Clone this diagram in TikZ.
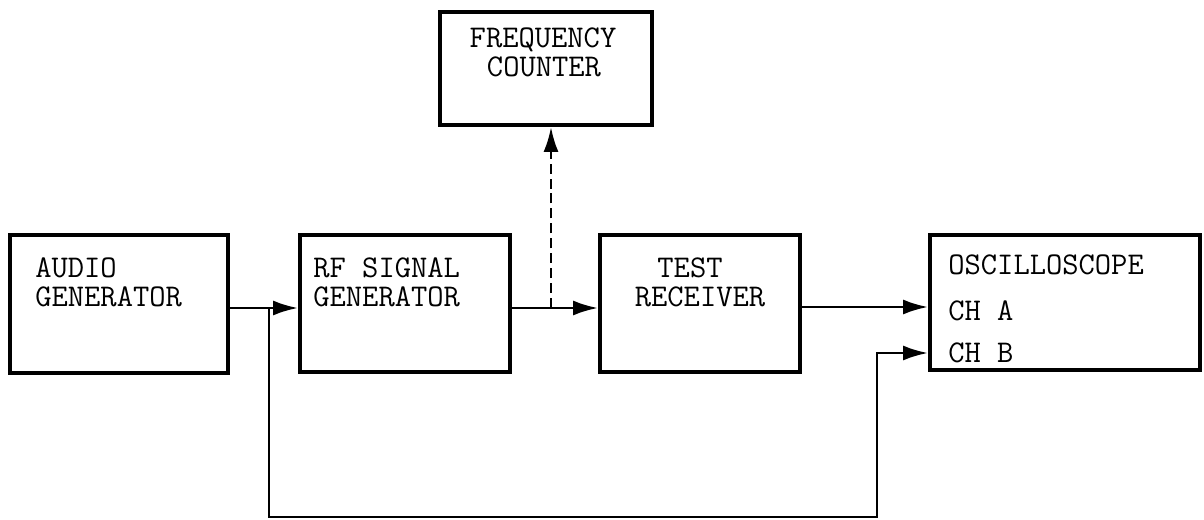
\documentclass[tikz,border=0pt]{standalone}
\usetikzlibrary{arrows.meta}
\begin{document}
\begin{tikzpicture}[x=0.02cm,y=-0.02cm,
  box/.style={draw,line width=2.2pt,inner sep=0pt},
  txt/.style={inner sep=0pt,anchor=base west,font=\fontsize{18}{18}\selectfont\ttfamily},
  ctxt/.style={inner sep=0pt,anchor=base,font=\fontsize{18}{18}\selectfont\ttfamily},
  conn/.style={line width=1.6pt,line join=miter},
  arr/.style={conn,-{Latex[length=0.5cm,width=0.3cm]}},
  dsh/.style={dash pattern=on 5.7pt off 2.8pt}]
\useasboundingbox (0,0) rectangle (1204,520);
% boxes
\node[box,minimum width=4.36cm,minimum height=2.76cm] (ag) at (119,304) {};
\node[box,minimum width=4.2cm,minimum height=2.74cm] (rf) at (405,303.5) {};
\node[box,minimum width=4.24cm,minimum height=2.26cm] (fc) at (546,68.5) {};
\node[box,minimum width=4.0cm,minimum height=2.74cm] (tr) at (700,303.5) {};
\node[box,minimum width=5.4cm,minimum height=2.7cm] (osc) at (1065,302.5) {};
% texts
\node[txt] (ag1) at (35,277) {AUDIO};
\node[txt] (ag2) at (35,307) {GENERATOR};
\node[txt] (rf1) at (313,277) {RF SIGNAL};
\node[txt] (rf2) at (313,307) {GENERATOR};
\node[ctxt] (fc1) at (543,48) {FREQUENCY};
\node[ctxt] (fc2) at (544,77) {COUNTER};
\node[ctxt] (tr1) at (690,277) {TEST};
\node[ctxt] (tr2) at (700,307) {RECEIVER};
\node[txt] (os1) at (948,275) {OSCILLOSCOPE};
\node[txt] (os2) at (948,320) {CH A};
\node[txt] (os3) at (948,362) {CH B};
% connector points
\coordinate (split) at (269,308);
\coordinate (fcsplit) at (551,308);
\coordinate (bl) at (269,517);
\coordinate (br) at (877,517);
\coordinate (chb) at (877,353);
% connectors
\draw[arr] (ag.east |- split) -- (rf.west |- split);
\draw[arr] (split) -- (bl) -- (br) -- (chb) -- (osc.west |- chb);
\draw[arr] (rf.east |- split) -- (tr.west |- split);
\draw[arr,dsh] (fcsplit) -- (fcsplit |- fc.south);
\draw[arr] (tr.east |- 0,307) -- (osc.west |- 0,307);
\end{tikzpicture}
\end{document}
